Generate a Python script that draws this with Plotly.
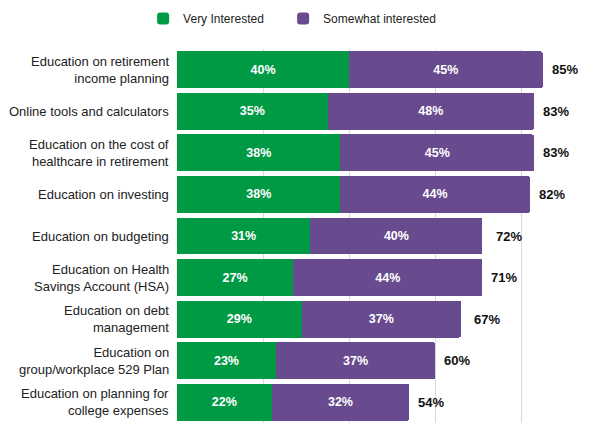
import plotly.graph_objects as go

categories = [
    "Education on retirement<br>income planning",
    "Online tools and calculators",
    "Education on the cost of<br>healthcare in retirement",
    "Education on investing",
    "Education on budgeting",
    "Education on Health<br>Savings Account (HSA)",
    "Education on debt<br>management",
    "Education on<br>group/workplace 529 Plan",
    "Education on planning for<br>college expenses",
]
very_interested = [40, 35, 38, 38, 31, 27, 29, 23, 22]
somewhat_interested = [45, 48, 45, 44, 40, 44, 37, 37, 32]
totals = [85, 83, 83, 82, 72, 71, 67, 60, 54]

GREEN = "#009a44"
PURPLE = "#684a8e"
FONT = "Liberation Sans, Arial"

fig = go.Figure()
fig.add_trace(go.Bar(
    y=categories, x=very_interested, orientation="h", name="Very Interested",
    marker=dict(color=GREEN, line=dict(width=0)), legendwidth=95,
    text=[f"{v}%" for v in very_interested], textposition="inside", insidetextanchor="middle",
    textfont=dict(color="white", size=12.5, family=FONT, weight="bold"),
))
fig.add_trace(go.Bar(
    y=categories, x=somewhat_interested, orientation="h", name="Somewhat interested",
    marker=dict(color=PURPLE, line=dict(width=0)), legendwidth=160,
    text=[f"{v}%" for v in somewhat_interested], textposition="inside", insidetextanchor="middle",
    textfont=dict(color="white", size=12.5, family=FONT, weight="bold"),
))

# totals to the right of each bar, category labels right-aligned on the left
for cat, t in zip(categories, totals):
    fig.add_annotation(x=t, y=cat, text=f"<b>{t}%</b>", showarrow=False,
                       xanchor="left", xshift=7, font=dict(size=13, color="#111"))
    fig.add_annotation(x=0, xref="paper", y=cat, text=cat, showarrow=False, align="right",
                       xanchor="right", xshift=-6, font=dict(size=13, color="#222"))

# page body adds an 8px offset, so margins are trimmed to match
fig.update_layout(
    width=590, height=427, barmode="stack", bargap=0.11, barcornerradius=2,
    plot_bgcolor="white", paper_bgcolor="white",
    font=dict(family=FONT, size=13, color="#222"),
    margin=dict(l=169, r=8, t=41, b=12, autoexpand=False),
    legend=dict(orientation="h", xref="container", yref="paper",
                x=0.229, y=1.0816, xanchor="left", yanchor="middle", traceorder="normal",
                font=dict(size=12, color="#222")),
)
fig.update_xaxes(range=[0, 96], showgrid=True, gridcolor="#d9d9d9", gridwidth=1,
                 dtick=20, showticklabels=False, zeroline=False, showline=False)
fig.update_yaxes(autorange="reversed", showticklabels=False, showline=False)

fig.write_html("out.html")
